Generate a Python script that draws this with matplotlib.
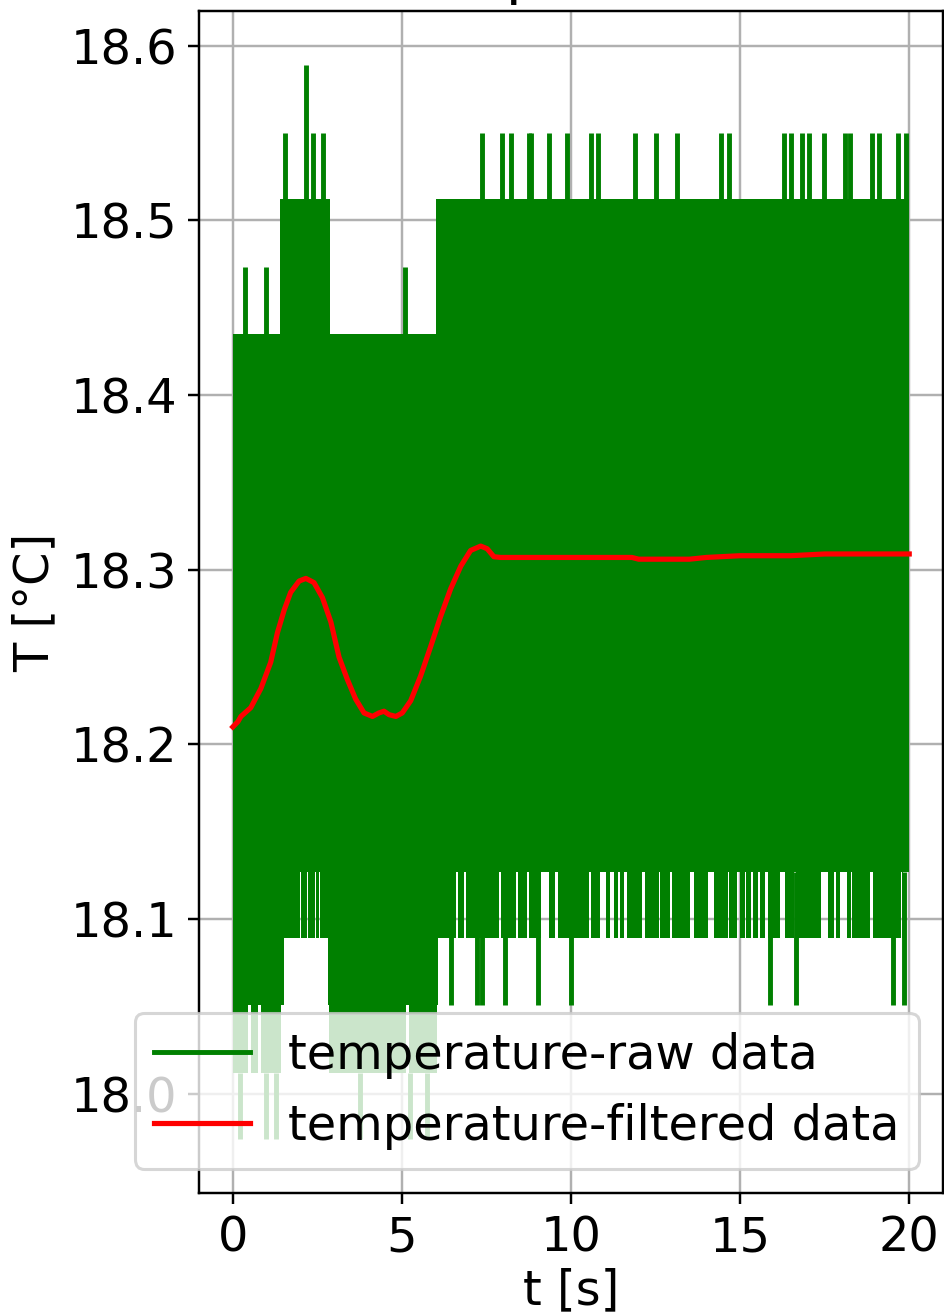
import matplotlib.pyplot as plt
from matplotlib.lines import Line2D

plt.rcParams['font.size'] = 15.7

# raw temperature [°C]: quantised, very noisy -> read as an envelope
# main noise band, piecewise constant upper level
band_t = [0.0, 1.39, 2.87, 6.00, 20.0]
band_hi = [18.435, 18.512, 18.435, 18.512]
band_lo = 18.127

# time intervals [s] where the raw signal keeps dipping to a lower level
dip_18089 = [(1.39, 2.00), (2.03, 2.18), (2.21, 2.44), (2.47, 2.56), (2.59, 2.87),
             (6.00, 6.59), (6.66, 6.83), (6.90, 7.87), (7.92, 8.38), (8.44, 8.69),
             (8.75, 9.12), (9.34, 9.54), (9.62, 10.53), (10.58, 10.87), (11.02, 11.15),
             (11.26, 11.38), (11.46, 11.58), (11.66, 12.10), (12.20, 12.59), (12.64, 12.92),
             (12.99, 13.53), (13.65, 14.05), (14.24, 14.63), (14.67, 14.91), (14.99, 15.13),
             (15.16, 15.33), (15.38, 15.52), (15.58, 15.75), (15.83, 16.19), (16.32, 16.60),
             (16.64, 17.40), (17.60, 17.79), (17.83, 17.96), (18.16, 18.29), (18.32, 18.85),
             (18.93, 19.77), (19.79, 19.83)]
dip_18051 = [(0.0, 1.50), (2.80, 6.07)]
dip_18012 = [(0.0, 0.44), (0.53, 0.75), (0.83, 1.41), (2.84, 5.13), (5.20, 6.03)]

# single samples outside the band
spike_18473 = [0.35, 0.97, 5.10]
spike_18550 = [1.54, 2.36, 2.68, 7.37, 7.96, 8.22, 8.75, 8.81, 9.34, 9.89, 10.59,
               10.81, 11.90, 12.51, 13.13, 14.42, 14.68, 16.31, 16.49, 16.84, 17.05,
               17.49, 18.09, 18.26, 18.90, 19.10, 19.68, 19.89]
spike_18589 = [2.17]
spike_18051 = [6.44, 7.23, 7.36, 8.04, 9.02, 9.99, 15.87, 16.64, 19.52, 19.85]
spike_17974 = [0.20, 0.99, 1.28, 3.77, 5.24, 5.73]

# filtered temperature [°C]
filt_t = [0.0, 0.15, 0.24, 0.53, 0.83, 1.12, 1.32, 1.52, 1.71, 1.96, 2.16, 2.40, 2.65,
          2.90, 3.14, 3.39, 3.63, 3.88, 4.13, 4.32, 4.47, 4.62, 4.82, 5.01, 5.26,
          5.55, 5.85, 6.14, 6.44, 6.74, 7.03, 7.33, 7.52, 7.72, 7.92, 8.51, 10.0,
          11.8, 12.0, 13.5, 14.0, 15.0, 16.5, 17.5, 20.0]
filt_T = [18.210, 18.213, 18.216, 18.221, 18.232, 18.247, 18.264, 18.277, 18.287,
          18.2935, 18.295, 18.2926, 18.284, 18.270, 18.250, 18.237, 18.226, 18.218,
          18.216, 18.218, 18.219, 18.217, 18.216, 18.218, 18.225, 18.239, 18.256,
          18.273, 18.289, 18.302, 18.311, 18.3135, 18.312, 18.3074, 18.307, 18.307,
          18.307, 18.307, 18.306, 18.306, 18.307, 18.308, 18.308, 18.309, 18.309]

green = 'green'
lw = 1.6
fig = plt.figure(figsize=(944 / 220, 1316 / 220), dpi=220)
ax = fig.add_axes([0.2108, 0.0935, 0.7882, 0.8981])

# raw data
ax.fill_between(band_t, band_lo, band_hi + [band_hi[-1]], step='post',
                color=green, lw=0, zorder=2)
for level, spans in [(18.089, dip_18089), (18.051, dip_18051), (18.012, dip_18012)]:
    for a, b in spans:
        ax.fill_between([a, b], level, band_lo, color=green, lw=0, zorder=2)
ax.vlines(spike_18473, 18.435, 18.473, color=green, lw=lw, zorder=2)
ax.vlines(spike_18550, 18.512, 18.550, color=green, lw=lw, zorder=2)
ax.vlines(spike_18589, 18.512, 18.589, color=green, lw=lw, zorder=2)
ax.vlines(spike_18051, band_lo, 18.051, color=green, lw=lw, zorder=2)
ax.vlines(spike_17974, 18.012, 17.974, color=green, lw=lw, zorder=2)

# filtered data
red_line, = ax.plot(filt_t, filt_T, color='red', lw=1.7, zorder=3,
                    label='temperature-filtered data')

raw_handle = Line2D([], [], color=green, lw=lw, label='temperature-raw data')
ax.legend(handles=[raw_handle, red_line], loc='lower right')

ax.grid(True)
ax.set_title('Temperature')
ax.set_xlabel('t [s]', labelpad=2)
ax.set_ylabel('T [°C]')

fig.savefig('out.png', dpi=220)
